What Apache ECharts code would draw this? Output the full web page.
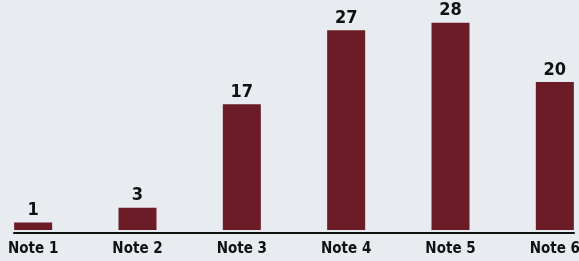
<!DOCTYPE html>
<html>
<head>
	<meta charset="UTF-8">
	<title>Notes</title>
	<script src="https://cdn.jsdelivr.net/npm/echarts@6/dist/echarts.min.js"></script>
	<style>
		html, body { margin: 0; padding: 0; background: #e8ebf0; overflow: hidden; }
		/* chart is wider than the window so the outer categories sit like the original */
		#wrap { position: relative; width: 579px; height: 261px; overflow: hidden; }
		#chart { position: absolute; left: -19px; top: 0; width: 626px; height: 261px; }
	</style>
</head>
<body>
<div id="wrap"><div id="chart"></div></div>
<script type="text/javascript">
	var categories = ['Note 1', 'Note 2', 'Note 3', 'Note 4', 'Note 5', 'Note 6'];
	var values = [1, 3, 17, 27, 28, 20];

	var chart = echarts.init(document.getElementById('chart'));

	var option = {
		backgroundColor: '#e8ebf0',
		animation: false,
		grid: [
			// bars
			{ left: 0, right: 0, top: 8, bottom: 31 },
			// baseline only
			{ left: 33, right: 33, top: 8, bottom: 28 }
		],
		xAxis: [
			{
				type: 'category',
				gridIndex: 0,
				data: categories,
				axisLine: { show: false },
				axisTick: { show: false },
				axisLabel: {
					color: '#111',
					fontFamily: 'DejaVu Sans Condensed',
					fontWeight: 'bold',
					fontSize: 15,
					margin: 12
				}
			},
			{
				type: 'value',
				gridIndex: 1,
				min: 0,
				max: 1,
				axisLine: { show: true, onZero: false, lineStyle: { color: '#111', width: 2 } },
				axisTick: { show: false },
				axisLabel: { show: false },
				splitLine: { show: false }
			}
		],
		yAxis: [
			{
				type: 'value',
				gridIndex: 0,
				min: 0,
				max: 30,
				show: false
			},
			{
				type: 'value',
				gridIndex: 1,
				show: false
			}
		],
		series: [
			{
				type: 'bar',
				xAxisIndex: 0,
				yAxisIndex: 0,
				data: values,
				barWidth: 38,
				itemStyle: { color: '#6b1c26' },
				label: {
					show: true,
					position: 'top',
					distance: 3,
					color: '#111',
					fontFamily: 'DejaVu Sans Condensed',
					fontWeight: 'bold',
					fontSize: 18
				}
			}
		]
	};

	chart.setOption(option);
</script>
</body>
</html>
